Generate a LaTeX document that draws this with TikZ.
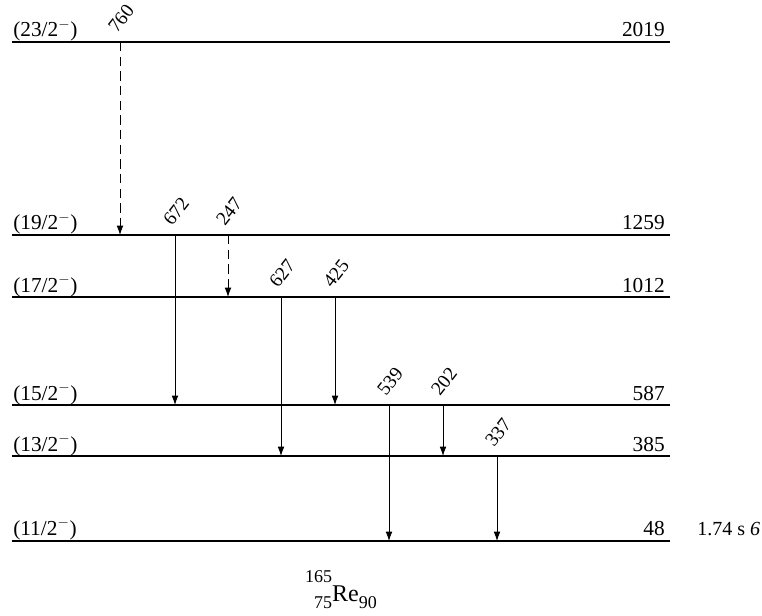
\documentclass[tikz,border=0pt]{standalone}
\usepackage{fontspec}
\setmainfont{Liberation Serif}
\usetikzlibrary{arrows.meta}

\tikzset{
  level/.style={line width=0.8pt},
  gslevel/.style={line width=2.2pt},
  gam/.style={-{Latex[length=7pt,width=5pt]},line width=0.6pt},
  gamdash/.style={gam,dash pattern=on 7pt off 4pt},
  spinlab/.style={anchor=base west,inner sep=0pt,font=\fontsize{16}{18}\selectfont},
  enlab/.style={anchor=base east,inner sep=0pt,font=\fontsize{16}{18}\selectfont},
  glab/.style={anchor=base west,rotate=52,inner sep=0pt,font=\fontsize{14.5}{16}\selectfont},
}

\begin{document}
\begin{tikzpicture}[x=0.75pt,y=-0.75pt]
        \useasboundingbox (0,0) rectangle (762,616);

        % levels
        \draw[level] (12,42) -- (670,42);
        \node[spinlab] (s2019) at (13,37) {(23/2$^{-}$)};
        \node[enlab] (e2019) at (665,37) {2019};

        \draw[level] (12,235) -- (670,235);
        \node[spinlab] (s1259) at (13,230) {(19/2$^{-}$)};
        \node[enlab] (e1259) at (665,230) {1259};

        \draw[level] (12,297) -- (670,297);
        \node[spinlab] (s1012) at (13,292) {(17/2$^{-}$)};
        \node[enlab] (e1012) at (665,292) {1012};

        \draw[level] (12,405) -- (670,405);
        \node[spinlab] (s587) at (13,400) {(15/2$^{-}$)};
        \node[enlab] (e587) at (665,400) {587};

        \draw[level] (12,456) -- (670,456);
        \node[spinlab] (s385) at (13,451) {(13/2$^{-}$)};
        \node[enlab] (e385) at (665,451) {385};

        \draw[gslevel] (12,541) -- (670,541);
        \node[spinlab] (s48) at (13,535) {(11/2$^{-}$)};
        \node[enlab] (e48) at (665,535) {48};
        \node[anchor=base west,inner sep=0pt,font=\fontsize{15}{17}\selectfont]
            (thalf) at (697,535) {1.74 s \textit{6}};

        % gamma rays
        \coordinate (g760a) at (120,42);  \coordinate (g760b) at (120,235);
        \coordinate (g672a) at (175,235); \coordinate (g672b) at (175,405);
        \coordinate (g247a) at (228,235); \coordinate (g247b) at (228,297);
        \coordinate (g627a) at (281,297); \coordinate (g627b) at (281,456);
        \coordinate (g425a) at (335,297); \coordinate (g425b) at (335,405);
        \coordinate (g539a) at (389,405); \coordinate (g539b) at (389,541);
        \coordinate (g202a) at (443,405); \coordinate (g202b) at (443,456);
        \coordinate (g337a) at (497,456); \coordinate (g337b) at (497,541);

        \draw[gamdash] (g760a) -- (g760b);
        \draw[gam] (g672a) -- (g672b);
        \draw[gamdash] (g247a) -- (g247b);
        \draw[gam] (g627a) -- (g627b);
        \draw[gam] (g425a) -- (g425b);
        \draw[gam] (g539a) -- (g539b);
        \draw[gam] (g202a) -- (g202b);
        \draw[gam] (g337a) -- (g337b);

        \node[glab] (l760) at ([shift={(-3,-8)}]g760a) {760};
        \node[glab] (l672) at ([shift={(-3,-8)}]g672a) {672};
        \node[glab] (l247) at ([shift={(-3,-8)}]g247a) {247};
        \node[glab] (l627) at ([shift={(-3,-8)}]g627a) {627};
        \node[glab] (l425) at ([shift={(-3,-8)}]g425a) {425};
        \node[glab] (l539) at ([shift={(-3,-8)}]g539a) {539};
        \node[glab] (l202) at ([shift={(-3,-8)}]g202a) {202};
        \node[glab] (l337) at ([shift={(-3,-8)}]g337a) {337};

        % nuclide
        \node[anchor=base,inner sep=0pt,font=\fontsize{18}{20}\selectfont] (nuc) at (341,601)
            {\raisebox{-5.25pt}{\fontsize{13.5}{16}\selectfont
             \begin{tabular}[b]{@{}r@{}}165\\[3.5pt]75\end{tabular}}Re\raisebox{-5.25pt}{\fontsize{13.5}{16}\selectfont 90}};
\end{tikzpicture}
\end{document}
